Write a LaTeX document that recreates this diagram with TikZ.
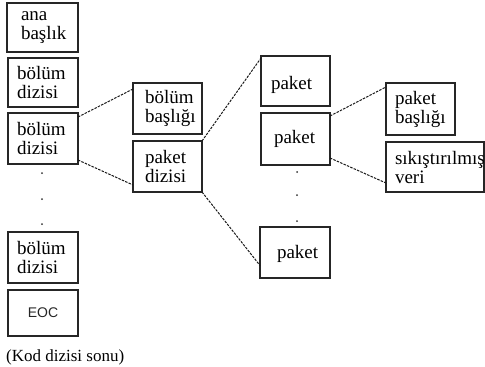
\documentclass[tikz,border=0pt]{standalone}
\usepackage{fontspec}
\usetikzlibrary{calc}
\newfontfamily\boxserif{Liberation Serif}
\newfontfamily\boxsans{Liberation Sans}
\tikzset{
  box/.style={draw=black!85, line width=1.2pt, outer sep=0pt, inner ysep=0pt,
    align=left, font={\boxserif\fontsize{19}{19}\selectfont}},
  link/.style={draw=black!90, line width=1pt, dash pattern=on 2.5pt off 1.2pt},
  gap/.style={fill=black!80},
}
\begin{document}
\begin{tikzpicture}[x=1pt, y=-1pt]
\useasboundingbox (0,0) rectangle (485,367);

% left column: code stream
\node[box, minimum height=49pt, inner xsep=14pt, text width=43pt] (head) at (42.5,27.5) {ana\\başlık};
\node[box, minimum height=49pt, inner xsep=9pt, text width=52pt] (tile1) at (43,82.5) {bölüm\\dizisi};
\node[box, minimum height=51pt, inner xsep=9pt, text width=52pt] (tile2) at (43,138.5) {bölüm\\dizisi};
\fill[gap] (42,173) circle (1pt) (42,199) circle (1pt) (42,224) circle (1pt);
\node[box, minimum height=51pt, inner xsep=9pt, text width=52pt] (tile3) at (43,257.5) {bölüm\\dizisi};
\node[box, minimum height=46pt, minimum width=70pt, text width=70pt, inner xsep=0pt, align=center,
  font={\boxsans\fontsize{14}{16}\selectfont}, text=black!85] (eoc) at (43,313) {EOC};
\node[anchor=base west, inner sep=0pt, font={\boxserif\fontsize{17}{19}\selectfont}] (eoclabel) at (6,361) {(Kod dizisi sonu)};

% middle column: tile contents
\node[box, minimum height=51pt, inner xsep=12pt, text width=45pt] (tilehead) at (167.5,108.5) {bölüm\\başlığı};
\node[box, minimum height=51pt, inner xsep=12pt, text width=45pt] (pktseq) at (167.5,166.5) {paket\\dizisi};

% packets
\node[box, minimum height=50pt, inner xsep=10pt, text width=49pt, text height=22pt] (pkt1) at (295.5,81) {paket};
\node[box, minimum height=52pt, inner xsep=13pt, text width=43pt] (pkt2) at (295.5,139) {paket};
\fill[gap] (297,172) circle (1pt) (297,195) circle (1pt) (297,221) circle (1pt);
\node[box, minimum height=51pt, inner xsep=17pt, text width=36pt, text height=16pt] (pkt3) at (295,252.5) {paket};

% packet contents
\node[box, minimum height=52pt, inner xsep=9pt, text width=51pt] (pkthead) at (420.5,109) {paket\\başlığı};
\node[box, minimum height=50pt, inner xsep=9pt, text width=80pt] (pktdata) at (435,167) {sıkıştırılmış\\veri};

% expansion lines
\draw[link] ($(tile2.north east)+(0,4)$) -- ($(tilehead.north west)+(0,6)$);
\draw[link] ($(tile2.south east)+(0,-4)$) -- ($(pktseq.south west)+(0,-7)$);
\draw[link] (pktseq.north east) -- ($(pkt1.north west)+(0,2)$);
\draw[link] (pktseq.south east) -- ($(pkt3.west)+(0,13)$);
\draw[link] ($(pkt2.north east)+(0,3)$) -- ($(pkthead.north west)+(0,4)$);
\draw[link] ($(pkt2.south east)+(0,-7)$) -- ($(pktdata.south west)+(0,-9)$);
\end{tikzpicture}
\end{document}
